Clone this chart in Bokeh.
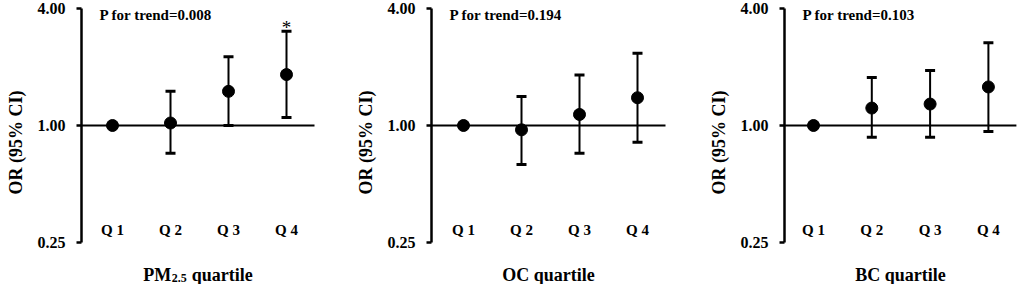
from bokeh.plotting import figure
from bokeh.models import Range1d, FixedTicker, PrintfTickFormatter, Label, ColumnDataSource
from bokeh.layouts import row
from bokeh.core.properties import value
from bokeh.embed import file_html
from bokeh.resources import INLINE

# ---------------- data ----------------
quartiles = ["Q 1", "Q 2", "Q 3", "Q 4"]
q_pos = [1, 2, 3, 4]

pm25_or = [1.00, 1.03, 1.50, 1.83]
pm25_lo = [1.00, 0.72, 1.00, 1.10]
pm25_hi = [1.00, 1.50, 2.26, 3.06]

oc_or = [1.00, 0.95, 1.14, 1.39]
oc_lo = [1.00, 0.63, 0.72, 0.82]
oc_hi = [1.00, 1.41, 1.82, 2.36]

bc_or = [1.00, 1.23, 1.29, 1.58]
bc_lo = [1.00, 0.87, 0.87, 0.93]
bc_hi = [1.00, 1.77, 1.92, 2.67]

p_trend = ["0.008", "0.194", "0.103"]
pm25_sig = [False, False, False, True]
oc_sig = [False, False, False, False]
bc_sig = [False, False, False, False]

y_ticks = [0.25, 1.0, 4.0]
y_label = "OR (95% CI)"

# ---------------- layout helpers ----------------
FONT = "Liberation Serif"
H = 284
Y_ONE = 125.0
PX_PER_DOUBLING = 58.4


def py_to_val(py):
    return 2 ** ((Y_ONE - py) / PX_PER_DOUBLING)


Y_TOP = py_to_val(0)
Y_BOT = py_to_val(H)

WIDTHS = {"P": .611, "M": .944, "2": .5, ".": .25, "5": .5, " ": .25, "q": .556,
          "u": .556, "a": .5, "r": .444, "t": .333, "i": .278, "l": .278, "e": .444,
          "O": .778, "C": .722, "B": .667}


def text_w(s, size):
    return sum(WIDTHS.get(c, .5) for c in s) * size


def make_panel(width, left, unit, q1_rel, ors, los, his, sig, ptxt, xlabel_parts):
    x_start = 1 - (q1_rel - left) / unit
    x_end = x_start + (width - left) / unit
    p = figure(width=width, height=H, y_axis_type="log",
               x_range=Range1d(x_start, x_end), y_range=Range1d(Y_BOT, Y_TOP),
               output_backend="svg", toolbar_location=None,
               min_border_left=left, min_border_right=0, min_border_top=0, min_border_bottom=0)
    p.outline_line_color = None
    p.background_fill_color = "white"
    p.border_fill_color = "white"
    p.xgrid.visible = False
    p.ygrid.visible = False
    p.xaxis.visible = False

    ax = p.yaxis[0]
    ax.ticker = FixedTicker(ticks=y_ticks, minor_ticks=[])
    ax.formatter = PrintfTickFormatter(format="%.2f")
    ax.bounds = (y_ticks[0], y_ticks[-1])
    ax.axis_line_width = 2.5
    ax.axis_line_color = "black"
    ax.major_tick_line_width = 2.5
    ax.major_tick_line_color = "black"
    ax.major_tick_out = 5
    ax.major_tick_in = 0
    ax.minor_tick_out = 0
    ax.minor_tick_in = 0
    ax.major_label_standoff = 11
    ax.major_label_text_font = FONT
    ax.major_label_text_font_style = "bold"
    ax.major_label_text_font_size = "16px"
    ax.major_label_text_color = "black"
    ax.axis_label = y_label
    ax.axis_label_text_font = FONT
    ax.axis_label_text_font_style = "bold"
    ax.axis_label_text_font_size = "18px"
    ax.axis_label_text_color = "black"
    ax.axis_label_standoff = 9

    line_end = 4 + 28 / unit
    p.segment(x0=[x_start], y0=[1.0], x1=[line_end], y1=[1.0], line_color="black", line_width=2)

    src = ColumnDataSource(dict(x=q_pos, y=ors, lo=los, hi=his, q=quartiles))
    p.segment(x0="x", y0="lo", x1="x", y1="hi", source=src, line_color="black", line_width=2)
    p.scatter(x="x", y="lo", source=src, marker="dash", size=10, line_width=3, line_color="black")
    p.scatter(x="x", y="hi", source=src, marker="dash", size=10, line_width=3, line_color="black")
    p.scatter(x="x", y="y", source=src, marker="circle", size=12, fill_color="black", line_color="black")

    # significance star
    sx = [x for x, s in zip(q_pos, sig) if s]
    sy = [h * 2 ** (3.5 / PX_PER_DOUBLING) for h, s in zip(his, sig) if s]
    if sx:
        p.text(x=sx, y=sy, text=["*"] * len(sx), text_align="center", text_baseline="middle",
               text_font=value(FONT), text_font_size="19px", text_color="black")

    # quartile labels
    p.text(x=q_pos, y=[py_to_val(229)] * 4, text=quartiles, text_align="center",
           text_baseline="middle", text_font=value(FONT), text_font_style="bold",
           text_font_size="15px", text_color="black")

    # P for trend
    p.add_layout(Label(x=x_start, y=py_to_val(14), x_offset=18, text="P for trend=" + ptxt,
                       text_font=FONT, text_font_style="bold", text_font_size="15px",
                       text_align="left", text_baseline="middle", text_color="black"))

    # x label (with optional subscript)
    total = sum(text_w(t, s) + gap for t, s, _, gap in xlabel_parts)
    center = (x_start + line_end) / 2
    off = -total / 2
    for t, s, drop, gap in xlabel_parts:
        off += gap
        p.add_layout(Label(x=center, y=py_to_val(274 + drop), x_offset=off, text=t,
                           text_font=FONT, text_font_style="bold", text_font_size=f"{s}px",
                           text_align="left", text_baseline="alphabetic", text_color="black"))
        off += text_w(t, s)
    return p


p1 = make_panel(340, 81, 58.0, 112, pm25_or, pm25_lo, pm25_hi, pm25_sig, p_trend[0],
                [("PM", 18, 0, 0), ("2.5", 12, 3, 0.5), ("quartile", 18, 0, 5)])
p2 = make_panel(340, 91, 58.0, 123, oc_or, oc_lo, oc_hi, oc_sig, p_trend[1],
                [("OC quartile", 18, 0, 0)])
p3 = make_panel(341, 104, 58.3, 133, bc_or, bc_lo, bc_hi, bc_sig, p_trend[2],
                [("BC quartile", 18, 0, 0)])

layout = row(p1, p2, p3, spacing=0)
open("out.html", "w").write(file_html(layout, INLINE))
